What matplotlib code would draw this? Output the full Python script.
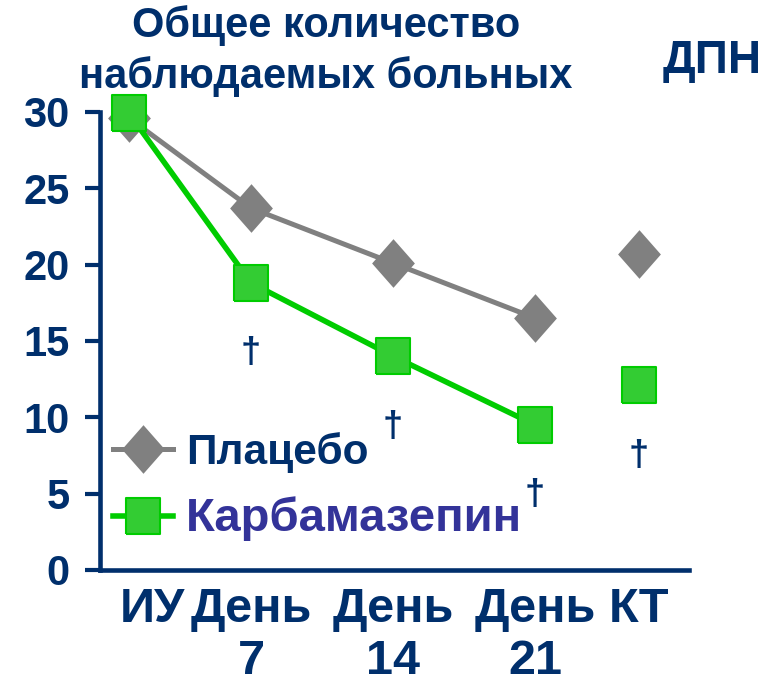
import matplotlib
matplotlib.use('Agg')
import matplotlib.pyplot as plt
from matplotlib.transforms import ScaledTranslation

plt.rcParams['font.family'] = ['Liberation Sans', 'DejaVu Sans']
plt.rcParams['font.weight'] = 'bold'

# data
categories = ['ИУ', 'День\n7', 'День\n14', 'День\n21', 'КТ']
x_pos = [0, 1.0, 2.164, 3.328, 4.18]
placebo = [29.6, 23.7, 20.1, 16.5, 20.7]
carbamazepine = [29.9, 18.8, 14.0, 9.5, 12.1]
significant = [False, True, True, True, True]
y_ticks = [0, 5, 10, 15, 20, 25, 30]

navy = '#002f6c'
gray = '#808080'
green_line = '#00cc00'
green_face = '#33cc33'

diamond = [(0, 1), (0.88, 0), (0, -1), (-0.88, 0), (0, 1)]
square = [(-0.92, -1), (0.92, -1), (0.92, 1), (-0.92, 1), (-0.92, -1)]

fig = plt.figure(figsize=(7.78, 6.83), dpi=100)
ax = fig.add_axes([0.1285, 0.1655, 0.7571, 0.6706])

# placebo: last point (КТ) not joined
ax.plot(x_pos[:4], placebo[:4], color=gray, lw=3.6, marker=diamond,
        ms=35, mec=gray, mew=0, zorder=3, clip_on=False, label='Плацебо')
ax.plot(x_pos[4:], placebo[4:], color=gray, lw=0, marker=diamond,
        ms=35, mec=gray, mew=0, zorder=3, clip_on=False)
ax.plot(x_pos[:4], carbamazepine[:4], color=green_line, lw=4, marker=square,
        ms=26.6, mfc=green_face, mec=green_line, mew=1.5, zorder=4,
        clip_on=False, label='Карбамазепин')
ax.plot(x_pos[4:], carbamazepine[4:], color=green_line, lw=0, marker=square,
        ms=26.6, mfc=green_face, mec=green_line, mew=1.5, zorder=4, clip_on=False)

for x, y, s in zip(x_pos, carbamazepine, significant):
    if s:
        ax.annotate('†', (x, y), xytext=(0, -51), textcoords='offset points',
                    ha='center', va='center', fontsize=26, color=navy)

ax.set_xlim(-0.238, 4.59)
ax.set_ylim(0, 30)
ax.set_yticks(y_ticks)
ax.set_xticks(x_pos)
ax.set_xticklabels(categories, fontsize=35, color=navy, linespacing=1.2)
ax.tick_params(axis='x', length=0, pad=12)
ax.tick_params(axis='y', length=11, width=3, color=navy, labelcolor=navy,
               labelsize=30, pad=11)
first = ax.get_xticklabels()[0]
first.set_transform(first.get_transform() + ScaledTranslation(0.23, 0, fig.dpi_scale_trans))

for side in ['top', 'right']:
    ax.spines[side].set_visible(False)
for side in ['left', 'bottom']:
    ax.spines[side].set_color(navy)
    ax.spines[side].set_linewidth(3.3)

leg = ax.legend(loc='upper left', bbox_to_anchor=(113 / 778, 1 - 432 / 683),
                bbox_transform=fig.transFigure, frameon=False, fontsize=30.5,
                handlelength=1.42, handletextpad=0.3, borderpad=0,
                borderaxespad=0, labelspacing=0.55)
texts = leg.get_texts()
texts[0].set_color(navy)
texts[1].set_color('#333399')
texts[1].set_fontsize(34)

fig.text(0.419, 1 - 37 / 683, 'Общее количество', ha='center', va='baseline',
         fontsize=30, color=navy)
fig.text(0.419, 1 - 88 / 683, 'наблюдаемых больных', ha='center', va='baseline',
         fontsize=30, color=navy)
fig.text(712 / 778, 1 - 73 / 683, 'ДПН', ha='center', va='baseline',
         fontsize=33, color=navy)

plt.savefig('out.png', dpi=100)
plt.close()
